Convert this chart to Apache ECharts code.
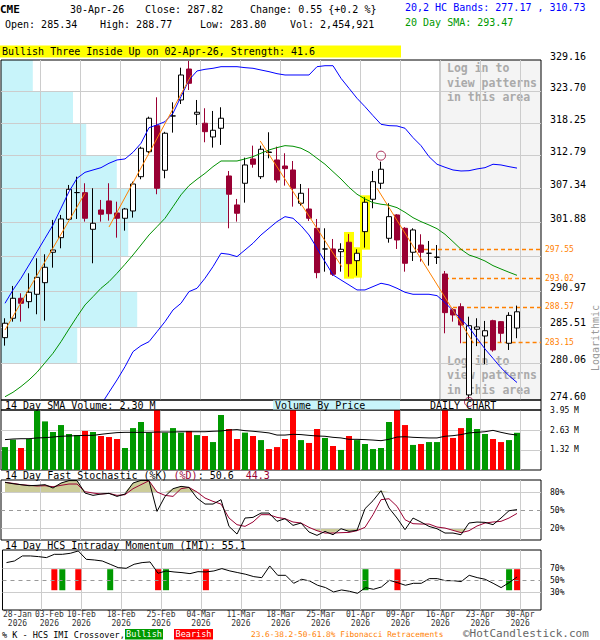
<!DOCTYPE html>
<html>
<head>
<meta charset="utf-8">
<title>CME daily candlestick chart</title>
<script src="https://cdn.jsdelivr.net/npm/echarts@6/dist/echarts.min.js"></script>
<style>
html,body{margin:0;padding:0;background:#ffffff;}
#chart{width:600px;height:640px;}
</style>
</head>
<body>
<div id="chart"></div>
<script>
// ---------------- data ----------------
const dates = ['2026-01-28','2026-01-29','2026-01-30','2026-02-02','2026-02-03','2026-02-04','2026-02-05','2026-02-06','2026-02-09','2026-02-10',
'2026-02-11','2026-02-12','2026-02-13','2026-02-17','2026-02-18','2026-02-19','2026-02-20','2026-02-23','2026-02-24','2026-02-25',
'2026-02-26','2026-02-27','2026-03-02','2026-03-03','2026-03-04','2026-03-05','2026-03-06','2026-03-09','2026-03-10','2026-03-11',
'2026-03-12','2026-03-13','2026-03-16','2026-03-17','2026-03-18','2026-03-19','2026-03-20','2026-03-23','2026-03-24','2026-03-25',
'2026-03-26','2026-03-27','2026-03-30','2026-03-31','2026-04-01','2026-04-02','2026-04-06','2026-04-07','2026-04-08','2026-04-09',
'2026-04-10','2026-04-13','2026-04-14','2026-04-15','2026-04-16','2026-04-17','2026-04-20','2026-04-21','2026-04-22','2026-04-23',
'2026-04-24','2026-04-27','2026-04-28','2026-04-29','2026-04-30'];

const opens = [283.88,286.83,289.90,289.38,290.52,292.32,297.10,299.42,302.37,306.70,
306.69,300.76,303.87,305.34,303.39,302.53,303.71,309.31,313.46,317.84,
310.37,319.49,322.22,327.58,319.78,318.25,315.93,317.40,309.43,304.69,
308.23,312.25,309.31,313.40,312.08,311.08,310.42,304.96,304.03,300.92,
297.62,297.62,297.19,298.69,295.77,300.38,305.61,308.23,299.32,303.07,
300.92,297.10,298.25,296.94,296.31,293.68,288.15,288.60,275.34,285.15,
284.13,286.46,286.31,283.03,285.34];
const highs = [286.83,291.81,290.68,293.79,296.15,296.78,302.26,303.07,307.95,309.31,
308.23,307.41,305.50,308.23,305.22,304.20,308.49,314.30,319.37,322.68,
316.80,321.82,327.81,329.00,322.22,320.80,320.34,320.97,310.25,305.66,
312.46,314.47,314.47,316.72,314.30,313.20,311.91,308.11,307.41,302.42,
300.92,299.21,298.53,300.01,297.57,305.93,310.25,311.80,304.96,303.20,
301.10,300.92,299.96,298.89,298.25,294.15,288.40,289.13,287.07,286.83,
286.42,286.60,286.40,287.75,288.77];
const lows = [282.67,286.31,286.31,288.36,287.44,286.46,294.67,297.73,302.26,302.42,
301.99,295.36,301.99,302.15,299.42,300.54,302.63,308.89,313.20,306.43,
309.05,316.66,321.53,323.94,317.96,315.04,314.14,314.59,300.92,301.99,
305.06,310.80,308.93,312.36,308.33,307.84,304.41,304.58,302.10,293.01,
294.04,293.37,294.04,293.26,293.42,297.83,304.15,307.29,298.62,297.62,
294.04,295.72,295.61,294.99,295.25,284.54,286.31,283.03,274.75,282.60,
279.88,281.77,283.18,282.02,283.80];
const closes = [286.07,289.90,289.13,290.83,293.16,294.73,297.46,302.42,307.24,306.70,
302.53,301.73,303.18,303.27,302.53,304.03,308.11,314.04,319.10,307.41,
316.56,319.49,326.54,325.10,320.12,316.82,317.06,319.10,306.43,303.34,
311.25,311.37,313.87,313.34,308.77,310.64,307.41,306.59,302.53,293.89,
297.62,293.63,297.57,295.30,296.94,305.12,308.49,310.54,302.79,299.05,
295.36,300.65,297.10,296.94,296.31,287.69,287.33,285.80,285.70,285.50,
284.93,282.02,284.54,287.27,287.82];

const upperBand = [289.13,291.19,293.01,295.09,297.19,299.32,301.45,304.15,306.85,309.05,
310.03,310.42,310.80,311.53,312.08,312.25,313.36,314.87,317.50,317.96,
318.52,319.95,322.79,325.67,327.24,327.53,327.71,327.99,327.99,327.99,
327.82,327.71,327.41,327.12,326.77,326.54,326.54,326.54,326.54,327.99,
328.16,328.16,325.96,324.23,322.51,321.07,319.54,318.07,317.84,317.79,
317.40,315.82,314.47,312.63,311.37,310.87,310.42,310.25,310.30,310.59,
310.80,311.37,311.25,310.97,310.73];
const lowerBand = [null,null,null,null,null,null,null,null,null,null,
null,null,273.90,275.73,277.55,279.52,281.77,282.67,283.27,284.78,
286.31,288.10,289.13,290.93,291.45,293.01,294.83,296.94,296.78,296.41,
297.46,298.53,299.85,300.92,301.99,302.79,302.53,301.34,299.85,297.73,
295.61,293.53,292.74,291.97,291.19,291.19,291.71,292.23,291.97,291.45,
290.83,290.52,290.52,290.52,290.31,289.23,288.00,286.68,285.45,283.78,
282.17,280.77,279.36,278.18,277.17];
const sma20 = [275.08,275.73,276.58,277.55,278.69,280.10,281.53,283.27,285.19,287.07,
288.87,290.15,291.45,292.48,293.79,295.20,296.67,298.25,299.85,301.18,
302.53,304.41,306.33,307.84,308.89,309.86,310.97,311.91,311.91,311.91,
312.25,312.63,313.20,313.75,314.14,314.47,314.37,314.04,313.36,312.36,
311.37,310.14,308.93,307.57,306.43,305.66,305.06,304.80,304.64,304.25,
303.50,302.63,301.99,301.45,300.86,299.96,298.78,297.57,296.67,296.25,
295.72,294.99,294.46,293.95,293.47];

// volume in millions of shares
const volumes = [1.51,2.00,1.45,2.04,3.91,3.20,2.50,2.96,2.37,2.30,
2.57,2.50,2.24,2.17,2.04,1.45,2.76,3.16,2.46,4.30,
2.46,2.76,2.46,2.57,2.30,2.24,1.84,3.62,2.70,2.04,
2.46,2.24,1.97,1.38,1.51,2.04,4.50,1.97,1.78,2.70,
2.11,1.58,1.32,2.24,1.97,1.71,1.38,1.45,3.16,4.40,
2.96,1.65,1.71,1.84,1.84,4.20,2.11,2.76,3.42,2.70,
2.37,2.04,1.84,1.97,2.45];
const volSma14 = [2.00,2.04,2.06,2.06,2.11,2.13,2.17,2.22,2.24,2.26,
2.28,2.28,2.35,2.41,2.46,2.48,2.48,2.48,2.48,2.50,
2.50,2.50,2.52,2.52,2.52,2.52,2.55,2.57,2.63,2.66,
2.59,2.55,2.50,2.44,2.30,2.30,2.35,2.33,2.28,2.24,
2.22,2.15,2.11,2.02,2.02,2.00,1.97,1.93,2.02,2.17,
2.19,2.15,2.13,2.11,2.11,2.22,2.26,2.33,2.44,2.48,
2.52,2.61,2.48,2.37,2.30];

const stochK = [96.1,93.8,92.2,90.5,91.1,92.2,86.6,94.9,99.0,99.0,
78.3,74.4,76.6,77.7,72.7,76.6,94.9,99.4,99.0,47.7,
72.7,85.5,89.4,87.7,69.9,59.9,59.9,67.2,22.7,9.9,
36.6,37.7,44.9,44.9,31.1,35.5,24.4,28.3,13.3,7.7,
14.4,8.8,18.8,14.4,16.1,52.2,65.5,82.2,53.3,36.6,
17.2,36.6,29.9,22.7,18.8,11.6,11.6,8.8,28.3,29.9,
29.4,25.5,36.6,48.8,50.6];
const stochD = [96.1,94.4,92.2,91.1,90.0,90.5,88.8,91.1,93.3,93.3,
80.5,78.3,76.6,77.7,74.4,75.5,85.5,92.2,98.8,80.0,
74.4,72.7,85.5,87.7,80.0,69.9,64.4,59.9,36.6,25.5,
22.7,30.0,42.2,42.2,37.7,35.5,30.0,28.3,21.1,15.5,
11.6,11.6,12.2,12.7,15.5,21.1,42.2,67.2,68.8,56.1,
33.8,27.2,26.6,26.6,21.6,19.9,16.1,12.2,15.5,23.3,
28.3,30.0,31.1,36.6,44.3];

const imi = [79.0,81.7,90.1,90.1,89.0,87.3,92.8,92.8,94.5,98.4,
84.5,83.4,81.7,76.2,70.6,69.5,76.2,79.0,80.1,61.2,
65.1,63.4,62.3,60.6,63.9,63.4,65.1,69.0,65.1,62.3,
59.5,55.6,53.9,73.4,57.8,57.8,44.5,51.2,48.4,41.2,
37.3,30.1,33.4,31.2,27.8,37.3,34.5,38.4,49.5,45.6,
41.2,44.5,44.5,52.3,52.3,48.9,48.9,47.3,57.8,54.0,
51.2,44.5,37.3,45.6,55.1];
const bullishCross = [7, 13, 20, 45, 63];
const bearishCross = [6, 9, 19, 25, 49, 64];

// price axis ticks (logarithmic), volume-by-price per band (millions), top band first
const priceTicks = [329.16, 323.70, 318.25, 312.79, 307.34, 301.88, 296.42, 290.97, 285.51, 280.06, 274.60];
const hiddenPriceLabel = 296.42;
const vbpVolume = [5.3, 12.0, 14.2, 19.3, 37.8, 21.2, 20.0, 22.7, 12.7, 0];
const vbpAxisMax = 90;
const volTicks = [1.32, 2.63, 3.95];
const stochLevels = [20, 50, 80];
const imiLevels = [30, 50, 70];

const fibLevels = [297.55, 293.02, 288.57, 283.15];
const fibStart = [51.5, 55.0, 56.0, 57.2];
// regression trend segments: [fromIndex, fromPrice, toIndex, toPrice]
const trendLines = [[0, 285.04, 10, 306.59], [13, 301.13, 23.3, 326.54], [31.9, 315.26, 42.1, 294.83], [46.5, 307.41, 58.5, 283.18]];
const patternDays = [43, 44, 45];
const signalHighDays = [47];
const signalLowDays = [58];
const lockedFromDate = '2026-04-16';
const tickDates = ['2026-01-28','2026-02-03','2026-02-10','2026-02-18','2026-02-25','2026-03-04','2026-03-11',
'2026-03-18','2026-03-25','2026-04-01','2026-04-09','2026-04-16','2026-04-23','2026-04-30'];

// ---------------- chart building ----------------
const MONO = '"DejaVu Sans Mono", "Liberation Mono", monospace';
const CW = 6.02;
const GRID_LINE = '#cccccc';
const X_MIN = -0.5, X_MAX = 67;
const CRIMSON = '#990033';
const UP_VOL = '#009900', DOWN_VOL = '#ff0000';
const MONTHS = ['Jan','Feb','Mar','Apr','May','Jun','Jul','Aug','Sep','Oct','Nov','Dec'];
const idx = d => dates.indexOf(d);
const gridLineVals = tickDates.slice(1).map(d => idx(d) + 0.375);
const labelVals = tickDates.map((d, k) => idx(d) + 0.375 + (k < 2 ? 1 : 0));
function dateLabel(v) {
  for (let k = 0; k < labelVals.length; k++) {
    if (Math.abs(labelVals[k] - v) < 1e-6) {
      const p = tickDates[k].split('-');
      return p[2] + '-' + MONTHS[+p[1] - 1] + '\n' + p[0];
    }
  }
  return '';
}
function xAxisFor(gridIndex, withLabels) {
  return {
    type: 'value', gridIndex, min: X_MIN, max: X_MAX,
    axisLine: {show: false},
    axisTick: {show: false, customValues: gridLineVals},
    splitLine: {show: true, lineStyle: {color: GRID_LINE, width: 1}},
    axisLabel: withLabels ? {
      show: true, customValues: labelVals, formatter: dateLabel, showMinLabel: true, showMaxLabel: true, hideOverlap: false,
      fontFamily: MONO, fontSize: 8, color: '#333', lineHeight: 9, margin: 0
    } : {show: false}
  };
}
function pctAxis(gridIndex, levels) {
  return {
    type: 'value', gridIndex, min: 0, max: 100, position: 'right',
    axisLine: {show: false},
    axisTick: {show: false, customValues: [levels[0], levels[2]]},
    splitLine: {show: true, lineStyle: {color: GRID_LINE}},
    axisLabel: {customValues: levels, formatter: v => v + '%', fontFamily: MONO, fontSize: 8, color: '#000', margin: 9}
  };
}
const xy = arr => arr.map((v, i) => [i, v]);
const lastIdx = priceTicks.length - 1;

const candleData = dates.map((d, i) => {
  const item = {value: [i, opens[i], closes[i], lows[i], highs[i]]};
  if (Math.abs(closes[i] - opens[i]) < 0.1) {
    item.itemStyle = {color: '#000', color0: '#000', borderColor: '#000', borderColor0: '#000', borderColorDoji: '#000'};
  }
  return item;
});
const volData = volumes.map((v, i) => ({value: [i, v], itemStyle: {color: closes[i] >= opens[i] ? UP_VOL : DOWN_VOL}}));
const stochMax = stochK.map((k, i) => Math.max(k, stochD[i]));
const crossData = bullishCross.map(i => [i, 1]).concat(bearishCross.map(i => [i, 0]));
const lockedFrom = idx(lockedFromDate) + 0.375;
const LOGIN_TEXT = 'Log in to\nview patterns\nin this area';

const series = [];
// volume by price (background)
series.push({
  type: 'custom', xAxisIndex: 4, yAxisIndex: 0, z: -2, silent: true,
  data: vbpVolume.map((v, k) => [v, priceTicks[k + 1], priceTicks[k]]),
  encode: {x: 0, y: [1, 2]},
  renderItem(params, api) {
    const a = api.coord([0, api.value(2)]);
    const b = api.coord([api.value(0), api.value(1)]);
    return {type: 'rect', shape: {x: a[0], y: a[1], width: b[0] - a[0], height: b[1] - a[1]}, style: {fill: '#c8f4fa'}};
  }
});
// locked pattern area
series.push({
  type: 'custom', xAxisIndex: 0, yAxisIndex: 0, z: -1, silent: true,
  data: [[lockedFrom, X_MAX]], encode: {x: [0, 1]},
  renderItem(params, api) {
    const cs = params.coordSys;
    const x0 = api.coord([api.value(0), 300])[0];
    const x1 = cs.x + cs.width;
    const font = 'bold 11.5px ' + MONO;
    return {type: 'group', children: [
      {type: 'rect', shape: {x: x0, y: cs.y, width: x1 - x0, height: cs.height}, style: {fill: '#f4f4f4'}},
      {type: 'line', shape: {x1: x0, y1: cs.y, x2: x0, y2: cs.y + cs.height}, style: {stroke: '#999999', lineWidth: 1}},
      {type: 'text', x: x0 + 7, y: cs.y + 1, style: {text: LOGIN_TEXT, fill: '#aaaaaa', font, lineHeight: 14.5, verticalAlign: 'top', textVerticalAlign: 'top'}},
      {type: 'text', x: x0 + 7, y: cs.y + cs.height - 3, style: {text: LOGIN_TEXT, fill: '#aaaaaa', font, lineHeight: 14.5, verticalAlign: 'bottom', textVerticalAlign: 'bottom'}}
    ]};
  }
});
// pattern highlight
series.push({
  type: 'custom', xAxisIndex: 0, yAxisIndex: 0, z: 1, silent: true,
  data: patternDays.map(i => [i, lows[i], highs[i]]), encode: {x: 0, y: [1, 2]},
  renderItem(params, api) {
    const t = api.coord([api.value(0), api.value(2)]);
    const b = api.coord([api.value(0), api.value(1)]);
    return {type: 'rect', shape: {x: t[0] - 5, y: t[1] - 2, width: 10, height: b[1] - t[1] + 4}, style: {fill: '#ffff00'}};
  }
});
// Fibonacci retracement levels (drawn under the candles)
series.push({
  type: 'line', xAxisIndex: 0, yAxisIndex: 0, z: 2, symbol: 'none', silent: true, data: [],
  markLine: {
    silent: true, symbol: ['none', 'none'], animation: false, z: 2,
    lineStyle: {color: '#ff8000', type: [4, 3], width: 1.3},
    label: {show: true, position: 'end', distance: 4, formatter: p => p.name, color: '#ff8000', fontSize: 8, fontFamily: MONO},
    data: fibLevels.map((v, j) => [{coord: [fibStart[j], v], name: v.toFixed(2)}, {coord: [X_MAX, v]}])
  }
});
series.push({
  type: 'candlestick', xAxisIndex: 0, yAxisIndex: 0, z: 3, barWidth: 5,
  encode: {x: 0, y: [1, 2, 3, 4]},
  itemStyle: {color: '#ffffff', color0: CRIMSON, borderColor: '#000000', borderColor0: CRIMSON, borderColorDoji: '#000000', borderWidth: 1},
  data: candleData
});
const lineOf = (data, color, z) => ({type: 'line', xAxisIndex: 0, yAxisIndex: 0, z: z || 4, symbol: 'none', silent: true,
  lineStyle: {color, width: 1}, data});
series.push(lineOf(xy(upperBand), '#0000ff'));
series.push(lineOf(xy(lowerBand), '#0000ff'));
series.push(lineOf(xy(sma20), '#009000'));
trendLines.forEach(t => series.push(lineOf([[t[0], t[1]], [t[2], t[3]]], '#ff8000', 5)));
series.push({
  type: 'scatter', xAxisIndex: 0, yAxisIndex: 0, z: 6, clip: false, silent: true,
  symbol: 'circle', symbolSize: 9,
  itemStyle: {color: 'rgba(0,0,0,0)', borderColor: CRIMSON, borderWidth: 1},
  data: signalHighDays.map(i => ({value: [i, highs[i]], symbolOffset: [0, -6]}))
    .concat(signalLowDays.map(i => ({value: [i, lows[i]], symbolOffset: [0, 3]})))
});
// volume panel
series.push({type: 'bar', xAxisIndex: 1, yAxisIndex: 1, barWidth: 6, silent: true, data: volData});
series.push({type: 'line', xAxisIndex: 1, yAxisIndex: 1, symbol: 'none', silent: true, z: 4,
  lineStyle: {color: '#000', width: 1}, data: xy(volSma14)});
// stochastic panel
series.push({
  type: 'custom', xAxisIndex: 2, yAxisIndex: 2, z: -1, silent: true,
  data: [[0, 50]], encode: {x: 0, y: 1},
  renderItem(params, api) {
    const hi = [], lo = [];
    const hiLvl = stochLevels[2], loLvl = stochLevels[0];
    for (let i = 0; i < stochMax.length; i++) hi.push(api.coord([i, Math.max(stochMax[i], hiLvl)]));
    for (let i = stochMax.length - 1; i >= 0; i--) hi.push(api.coord([i, hiLvl]));
    for (let i = 0; i < stochMax.length; i++) lo.push(api.coord([i, Math.min(stochMax[i], loLvl)]));
    for (let i = stochMax.length - 1; i >= 0; i--) lo.push(api.coord([i, loLvl]));
    return {type: 'group', children: [
      {type: 'polygon', shape: {points: hi}, style: {fill: '#cccc99'}},
      {type: 'polygon', shape: {points: lo}, style: {fill: '#cccc99'}}
    ]};
  }
});
series.push({type: 'line', xAxisIndex: 2, yAxisIndex: 2, symbol: 'none', silent: true, z: 4,
  lineStyle: {color: CRIMSON, width: 1}, data: xy(stochD)});
series.push({type: 'line', xAxisIndex: 2, yAxisIndex: 2, symbol: 'none', silent: true, z: 5,
  lineStyle: {color: '#000', width: 1}, data: xy(stochK),
  markLine: {silent: true, symbol: ['none', 'none'], animation: false, label: {show: false},
    lineStyle: {color: '#999999', type: [4, 4], width: 1}, data: [{yAxis: stochLevels[1]}]}});
// IMI panel
series.push({
  type: 'custom', xAxisIndex: 3, yAxisIndex: 3, z: 2, silent: true,
  data: crossData, encode: {x: 0, y: 1},
  renderItem(params, api) {
    const t = api.coord([api.value(0), 68]);
    const b = api.coord([api.value(0), 33]);
    return {type: 'rect', shape: {x: t[0] - 3, y: t[1], width: 6, height: b[1] - t[1]},
      style: {fill: api.value(1) ? '#009900' : '#ff0000'}};
  }
});
series.push({type: 'line', xAxisIndex: 3, yAxisIndex: 3, symbol: 'none', silent: true, z: 4,
  lineStyle: {color: '#000', width: 1}, data: xy(imi),
  markLine: {silent: true, symbol: ['none', 'none'], animation: false, label: {show: false},
    lineStyle: {color: '#999999', type: [4, 4], width: 1}, data: [{yAxis: imiLevels[1]}]}});

// ---------------- texts ----------------
const graphics = [];
function addText(x, y, text, opt) {
  opt = opt || {};
  graphics.push({
    type: 'text', x, y, z: 20, silent: true, rotation: opt.rotation || 0,
    style: {
      text, fill: opt.color || '#000',
      font: (opt.weight ? opt.weight + ' ' : '') + (opt.size || 10) + 'px ' + MONO,
      align: opt.align || 'left', textAlign: opt.align || 'left',
      verticalAlign: 'middle', textVerticalAlign: 'middle'
    }
  });
}
function addRect(x, y, w, h, fill, stroke) {
  graphics.push({type: 'rect', z: 19, silent: true, shape: {x, y, width: w, height: h},
    style: {fill: fill || 'none', stroke: stroke || null, lineWidth: 1}});
}
addText(0, 9, 'CME', {weight: 'bold', size: 11});
addText(70, 9, '30-Apr-26');
addText(145, 9, 'Close: 287.82');
addText(250, 9, 'Change: 0.55 {+0.2 %}');
addText(5, 24, 'Open: 285.34');
addText(100, 24, 'High: 288.77');
addText(200, 24, 'Low: 283.80');
addText(290, 24, 'Vol: 2,454,921');
addText(405, 7, '20,2 HC Bands: 277.17 , 310.73', {color: '#0000ff'});
addText(405, 22, '20 Day SMA: 293.47', {color: '#009900'});
addRect(0, 45.5, 401, 12, '#ffff00');
addText(2, 51.5, 'Bullish Three Inside Up on 02-Apr-26, Strength: 41.6');

addRect(1, 400, 540, 10, null, '#000');
addRect(273, 400.5, 127, 9, '#c8f4fa');
addText(5, 405, '14 Day SMA Volume: 2.30 M');
addText(275, 405, 'Volume By Price');
addText(430, 405, 'DAILY CHART');

addText(5, 475.5, '14 Day Fast Stochastic (%K) ');
addText(5 + 28 * CW, 475.5, '(%D)', {color: CRIMSON});
addText(5 + 32 * CW, 475.5, ': 50.6');
addText(5 + 40 * CW, 475.5, '44.3', {color: CRIMSON});
addText(5, 545.5, '14 Day HCS Intraday Momentum (IMI): 55.1');
addText(595, 338, 'Logarithmic', {color: '#999999', rotation: Math.PI / 2, align: 'center'});

addText(2, 634.5, '% K - HCS IMI Crossover,', {size: 8.5});
addRect(125, 629, 38, 10.5, '#009900');
addText(144, 634.3, 'Bullish', {color: '#ffffff', size: 8.5, align: 'center'});
addRect(174, 629, 39, 10.5, '#ff0000');
addText(193.5, 634.3, 'Bearish', {color: '#ffffff', size: 8.5, align: 'center'});
addText(251, 634.5, '23.6-38.2-50-61.8% Fibonacci Retracements', {color: '#ff8000', size: 7.8});
addText(463, 633.8, '\u00a9HotCandlestick.com', {color: '#666666', size: 11});

const gridBase = {left: 1, width: 540, show: true, borderColor: '#000', borderWidth: 1, backgroundColor: 'rgba(0,0,0,0)'};
const option = {
  animation: false,
  backgroundColor: '#ffffff',
  textStyle: {fontFamily: MONO},
  grid: [
    Object.assign({top: 60, height: 340}, gridBase),
    Object.assign({top: 410, height: 60}, gridBase),
    Object.assign({top: 480, height: 60}, gridBase),
    Object.assign({top: 550, height: 60}, gridBase)
  ],
  xAxis: [
    xAxisFor(0, false), xAxisFor(1, false), xAxisFor(2, false), xAxisFor(3, true),
    {type: 'value', gridIndex: 0, min: 0, max: vbpAxisMax, show: false}
  ],
  yAxis: [
    {
      type: 'log', logBase: 10, gridIndex: 0, min: priceTicks[lastIdx], max: priceTicks[0], position: 'right',
      axisLine: {show: false},
      axisTick: {show: false, customValues: priceTicks.slice(1, lastIdx)},
      splitLine: {show: true, lineStyle: {color: GRID_LINE}},
      axisLabel: {customValues: priceTicks.filter(v => v !== hiddenPriceLabel), formatter: v => Number(v).toFixed(2),
        fontFamily: MONO, fontSize: 10, lineHeight: 8, color: '#000', margin: 9, verticalAlign: 'bottom'}
    },
    {
      type: 'value', gridIndex: 1, min: 0, max: volTicks[2], position: 'right',
      axisLine: {show: false},
      axisTick: {show: false, customValues: volTicks.slice(0, 2)},
      splitLine: {show: true, lineStyle: {color: GRID_LINE}},
      axisLabel: {customValues: volTicks, formatter: v => Number(v).toFixed(2) + ' M', fontFamily: MONO, fontSize: 8, color: '#000', margin: 9}
    },
    pctAxis(2, stochLevels),
    pctAxis(3, imiLevels)
  ],
  graphic: graphics,
  series
};
const chart = echarts.init(document.getElementById('chart'), null, {renderer: 'svg'});
chart.setOption(option);
</script>
</body>
</html>
